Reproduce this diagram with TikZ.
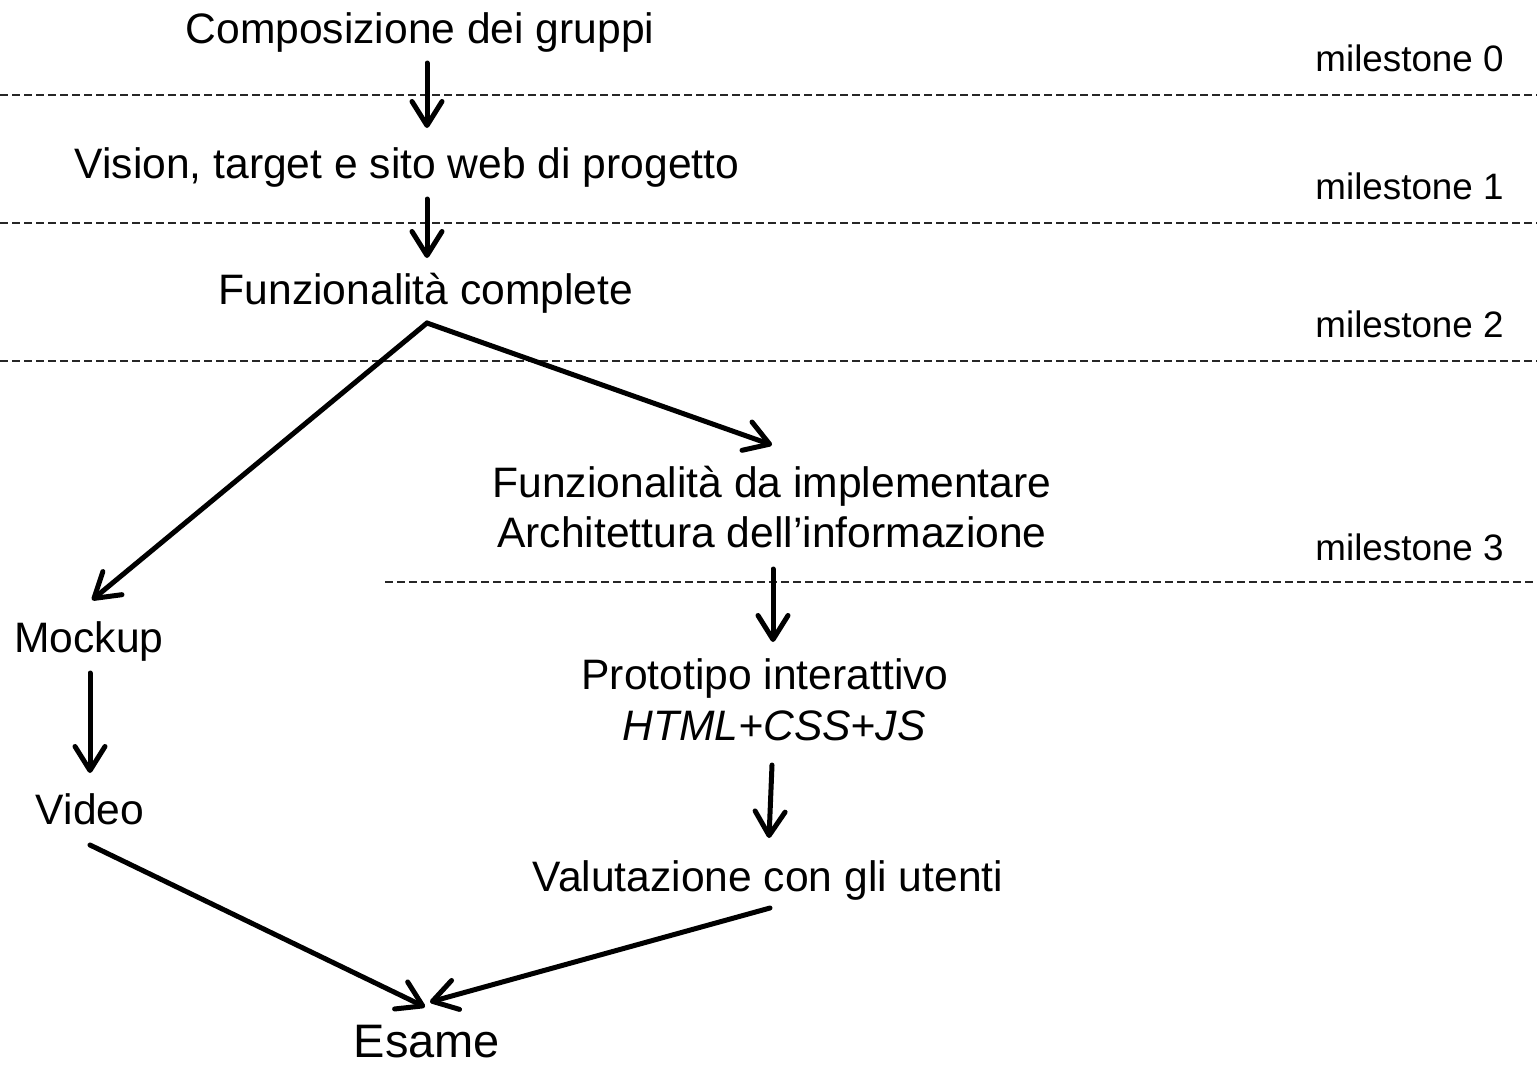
\documentclass[tikz,border=0pt]{standalone}
\usepackage{fontspec}
\setmainfont{Liberation Sans}
\usetikzlibrary{arrows.meta}
\begin{document}
\begin{tikzpicture}[x=0.5pt,y=-0.5pt,
  lbl/.style={anchor=base,inner sep=0pt,font=\fontsize{21.3}{25}\selectfont},
  mslbl/.style={anchor=base east,inner sep=0pt,font=\fontsize{18.4}{22}\selectfont},
  sep/.style={line width=0.75pt,black!85,dash pattern=on 4pt off 2pt},
  arr/.style={line width=2.5pt,line cap=round,line join=round,
    -{Straight Barb[length=12pt,width=15pt,line cap=round,line join=round]}}]
\useasboundingbox (0,0) rectangle (1537,1066);
% separators
\coordinate (s0a) at (0,95);   \coordinate (s0b) at (1537,95);
\coordinate (s1a) at (0,223);  \coordinate (s1b) at (1537,223);
\coordinate (s2a) at (0,361);  \coordinate (s2b) at (1537,361);
\coordinate (s3a) at (385,582);\coordinate (s3b) at (1537,582);
\draw[sep] (s0a) -- (s0b);
\draw[sep] (s1a) -- (s1b);
\draw[sep] (s2a) -- (s2b);
\draw[sep] (s3a) -- (s3b);
% milestone labels
\node[mslbl] (m0) at (1504,71) {milestone 0};
\node[mslbl] (m1) at (1504,199) {milestone 1};
\node[mslbl] (m2) at (1504,337) {milestone 2};
\node[mslbl] (m3) at (1504,560) {milestone 3};
% steps
\node[lbl] (comp) at (420,43) {Composizione dei gruppi};
\node[lbl] (vis) at (407,178) {Vision, target e sito web di progetto};
\node[lbl] (fc) at (426,304) {Funzionalità complete};
\node[lbl] (fi) at (772,497) {Funzionalità da implementare};
\node[lbl] (ai) at (772,547) {Architettura dell’informazione};
\node[lbl] (mock) at (89,652) {Mockup};
\node[lbl] (vid) at (90,824) {Video};
\node[lbl] (proto) at (765,689) {Prototipo interattivo};
\node[lbl] (html) at (774,740) {\itshape HTML+CSS+JS};
\node[lbl] (val) at (768,891) {Valutazione con gli utenti};
\node[anchor=base,inner sep=0pt,font=\fontsize{23.5}{28}\selectfont] (esame) at (427,1057) {Esame};
% connector end points
\coordinate (a1s) at (427,63);  \coordinate (a1e) at (427,128);
\coordinate (a2s) at (427,199); \coordinate (a2e) at (427,258);
\coordinate (apex) at (427,323);
\coordinate (lft) at (92,600);  \coordinate (rgt) at (772,445);
\coordinate (a3s) at (773,569); \coordinate (a3e) at (773,642);
\coordinate (a4s) at (90,673);  \coordinate (a4e) at (90,773);
\coordinate (a5s) at (772,765); \coordinate (a5e) at (769,838);
\coordinate (a6s) at (90,845);  \coordinate (ex1) at (425,1007);
\coordinate (a7s) at (770,908); \coordinate (ex2) at (430,1002);
% connectors
\draw[arr] (a1s) -- (a1e);
\draw[arr] (a2s) -- (a2e);
\draw[arr] (apex) -- (lft);
\draw[arr] (apex) -- (rgt);
\draw[arr] (a3s) -- (a3e);
\draw[arr] (a4s) -- (a4e);
\draw[arr] (a5s) -- (a5e);
\draw[arr] (a6s) -- (ex1);
\draw[arr] (a7s) -- (ex2);
\end{tikzpicture}
\end{document}
